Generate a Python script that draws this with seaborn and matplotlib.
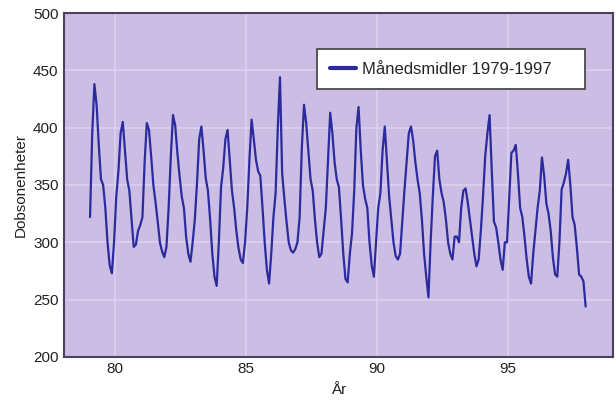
import numpy as np
import pandas as pd
import matplotlib
matplotlib.use("Agg")
import matplotlib.pyplot as plt
import seaborn as sns

years = list(range(1979, 1998))
# Monthly mean ozone (Dobson units), Jan..Dec for each year
ozone_1979 = [322, 395, 438, 420, 385, 355, 350, 330, 300, 280, 273, 300]
ozone_1980 = [340, 362, 395, 405, 380, 355, 345, 320, 296, 298, 310, 315]
ozone_1981 = [322, 370, 404, 398, 375, 350, 335, 318, 300, 292, 287, 296]
ozone_1982 = [330, 375, 411, 402, 378, 358, 340, 330, 305, 290, 283, 300]
ozone_1983 = [320, 352, 390, 401, 380, 356, 345, 320, 290, 270, 262, 300]
ozone_1984 = [348, 365, 390, 398, 372, 345, 330, 310, 295, 285, 282, 300]
ozone_1985 = [330, 372, 407, 390, 372, 362, 358, 330, 300, 276, 264, 290]
ozone_1986 = [322, 343, 400, 444, 360, 338, 318, 300, 293, 291, 294, 300]
ozone_1987 = [322, 382, 420, 404, 380, 355, 345, 320, 300, 287, 290, 310]
ozone_1988 = [330, 372, 413, 395, 370, 355, 348, 320, 290, 268, 265, 290]
ozone_1989 = [308, 345, 400, 418, 380, 350, 338, 330, 300, 280, 270, 300]
ozone_1990 = [330, 343, 380, 401, 370, 340, 320, 300, 288, 285, 290, 318]
ozone_1991 = [345, 370, 395, 401, 389, 370, 355, 343, 320, 290, 270, 252]
ozone_1992 = [300, 340, 375, 380, 355, 343, 335, 320, 300, 290, 285, 305]
ozone_1993 = [305, 300, 330, 345, 347, 335, 320, 305, 290, 279, 285, 310]
ozone_1994 = [340, 375, 395, 411, 363, 318, 313, 300, 285, 276, 300, 300]
ozone_1995 = [340, 378, 380, 385, 360, 330, 322, 305, 285, 270, 264, 290]
ozone_1996 = [310, 330, 345, 374, 358, 334, 325, 310, 287, 272, 270, 300]
ozone_1997 = [346, 352, 360, 372, 350, 322, 315, 295, 272, 270, 266, 244]

series = [ozone_1979, ozone_1980, ozone_1981, ozone_1982, ozone_1983,
          ozone_1984, ozone_1985, ozone_1986, ozone_1987, ozone_1988,
          ozone_1989, ozone_1990, ozone_1991, ozone_1992, ozone_1993,
          ozone_1994, ozone_1995, ozone_1996, ozone_1997]

xticks = [80, 85, 90, 95]
yticks = [200, 250, 300, 350, 400, 450, 500]
label = "Månedsmidler 1979-1997"

rows = []
for y, vals in zip(years, series):
    for m, v in enumerate(vals):
        rows.append({"år": (y - 1900) + (m + 0.5) / 12.0, "ozon": v})
df = pd.DataFrame(rows)

sns.set_theme(style="white")
plt.rcParams["font.family"] = ["Liberation Sans", "DejaVu Sans"]

fig = plt.figure(figsize=(6.16, 4.07), dpi=100)
ax = fig.add_axes([0.104, 0.123, 0.891, 0.845])
ax.set_facecolor("#cbbde4")

sns.lineplot(data=df, x="år", y="ozon", ax=ax, color="#2b2b9e",
             linewidth=1.6, label=label)

ax.set_xlim(78.05, 99.0)
ax.set_ylim(200, 500)
ax.set_xticks(xticks)
ax.set_yticks(yticks)
ax.grid(True, color="#ddd4ee", linewidth=1.1)
ax.set_axisbelow(True)
ax.tick_params(axis="both", labelsize=11, colors="#222222", length=3,
               direction="in", pad=4)
for s in ax.spines.values():
    s.set_color("#4a4060")
    s.set_linewidth(1.5)

ax.set_xlabel("År", fontsize=11, color="#222222", labelpad=5)
ax.set_ylabel("Dobsonenheter", fontsize=11, color="#222222", labelpad=4)

leg = ax.legend(loc="upper left", bbox_to_anchor=(0.461, 0.779, 0.488, 0.116),
                mode="expand", borderaxespad=0,
                fontsize=12, frameon=True, fancybox=False,
                borderpad=0.75, handlelength=1.6, handletextpad=0.35)
leg.get_frame().set_edgecolor("#4a4a4a")
leg.get_frame().set_linewidth(1.3)
leg.get_frame().set_facecolor("white")
leg.get_frame().set_alpha(1)
for h in leg.get_lines():
    h.set_linewidth(3)

fig.savefig("out.png", dpi=100)
